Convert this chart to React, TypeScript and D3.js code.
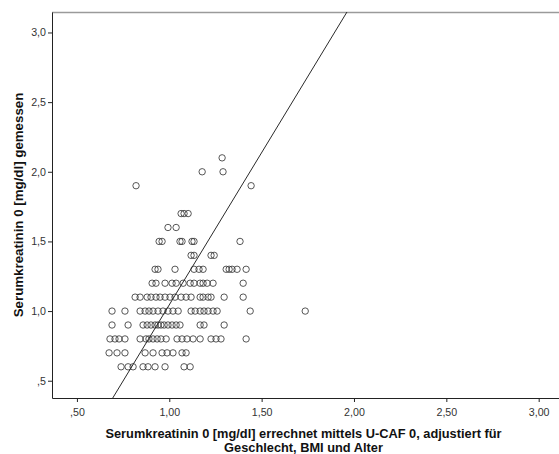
import { useEffect, useRef } from "react";
import * as d3 from "d3";

// measured serum creatinine (y) — values are recorded in 0.1 steps
const measuredLevels = [0.6, 0.7, 0.8, 0.9, 1.0, 1.1, 1.2, 1.3, 1.4, 1.5, 1.6, 1.7, 1.9, 2.0, 2.1];

const predictedByLevel = [
  [0.739, 0.777, 0.804, 0.858, 0.885, 0.923, 0.977, 1.080, 1.113],
  [0.674, 0.717, 0.760, 0.869, 0.912, 0.961, 0.988, 1.020, 1.069, 1.091],
  [0.679, 0.706, 0.728, 0.760, 0.842, 0.874, 0.890, 0.912, 0.934, 0.955, 0.983, 1.042, 1.069, 1.096, 1.129, 1.167, 1.226, 1.253, 1.280, 1.416],
  [0.690, 0.777, 0.858, 0.880, 0.901, 0.923, 0.939, 0.955, 0.972, 0.993, 1.015, 1.037, 1.058, 1.167, 1.188, 1.297],
  [0.690, 0.760, 0.842, 0.869, 0.890, 0.912, 0.939, 0.966, 0.993, 1.020, 1.048, 1.118, 1.140, 1.167, 1.188, 1.210, 1.237, 1.259, 1.438, 1.736],
  [0.815, 0.842, 0.880, 0.901, 0.928, 0.950, 0.977, 1.004, 1.031, 1.064, 1.091, 1.118, 1.167, 1.183, 1.210, 1.226, 1.297, 1.400],
  [0.907, 0.928, 0.977, 1.015, 1.037, 1.075, 1.113, 1.134, 1.167, 1.183, 1.205, 1.237, 1.400],
  [0.923, 0.939, 1.031, 1.134, 1.161, 1.183, 1.308, 1.324, 1.340, 1.367, 1.416],
  [1.118, 1.134, 1.226, 1.243],
  [0.945, 0.961, 1.058, 1.069, 1.123, 1.134, 1.383],
  [0.993, 1.037],
  [1.064, 1.080, 1.102],
  [0.820, 1.443],
  [1.178, 1.291],
  [1.286],
];

// reference / fit line  y = a + b·x
const fitIntercept = -1.14;
const fitSlope = 2.185;

const xTicks = [0.5, 1.0, 1.5, 2.0, 2.5, 3.0];
const yTicks = [0.5, 1.0, 1.5, 2.0, 2.5, 3.0];
const xDomain = [0.365, 3.11];
const yDomain = [0.376, 3.147];

const xTitle1 = "Serumkreatinin 0 [mg/dl] errechnet mittels U-CAF 0, adjustiert für";
const xTitle2 = "Geschlecht, BMI und Alter";
const yTitle = "Serumkreatinin 0 [mg/dl] gemessen";

const W = 559;
const H = 454;
const M = { top: 12, right: 0, bottom: 56, left: 52 };
const IW = W - M.left - M.right;
const IH = H - M.top - M.bottom;
const FONT = "Arial, 'Liberation Sans', sans-serif";

const commaFmt = (digits: number) => (v: number) =>
  v.toFixed(digits).replace(".", ",").replace(/^0/, "");

export default function App() {
  const svgRef = useRef<SVGSVGElement>(null);

  useEffect(() => {
    if (!svgRef.current) return;
    const svg = d3.select(svgRef.current);
    svg.selectAll("*").remove();

    const x = d3.scaleLinear().domain(xDomain).range([0, IW]);
    const y = d3.scaleLinear().domain(yDomain).range([IH, 0]);

    const points: { px: number; my: number }[] = [];
    measuredLevels.forEach((lv, i) => {
      predictedByLevel[i].forEach((p) => points.push({ px: p, my: lv }));
    });

    svg.append("rect").attr("width", W).attr("height", H).attr("fill", "#fff");

    svg.append("defs").append("clipPath").attr("id", "plot-clip")
      .append("rect").attr("width", IW).attr("height", IH);

    const g = svg.append("g").attr("transform", `translate(${M.left},${M.top})`);

    // top frame line
    g.append("line")
      .attr("x1", 0).attr("x2", IW).attr("y1", 0.5).attr("y2", 0.5)
      .attr("stroke", "#9a9a9a").attr("stroke-width", 1.5);

    // points
    g.append("g")
      .selectAll("circle")
      .data(points)
      .join("circle")
      .attr("cx", (d) => x(d.px))
      .attr("cy", (d) => y(d.my))
      .attr("r", 3.2)
      .attr("fill", "none")
      .attr("stroke", "#3a3a3a")
      .attr("stroke-opacity", 0.85)
      .attr("stroke-width", 1);

    // fit line
    const line = d3.line<number>()
      .x((d) => x(d))
      .y((d) => y(fitIntercept + fitSlope * d));
    g.append("path")
      .attr("clip-path", "url(#plot-clip)")
      .attr("d", line(xDomain))
      .attr("fill", "none")
      .attr("stroke", "#2a2a2a")
      .attr("stroke-width", 1);

    const styleAxis = (sel: any) => {
      sel.selectAll("text")
        .attr("fill", "#333")
        .attr("font-size", 10.67)
        .attr("font-family", FONT);
      sel.selectAll("line, path").attr("stroke", "#222");
    };

    g.append("g")
      .attr("transform", `translate(0,${IH})`)
      .call(d3.axisBottom(x).tickValues(xTicks).tickFormat(commaFmt(2) as any)
        .tickSize(4).tickSizeOuter(0).tickPadding(6))
      .call(styleAxis);

    g.append("g")
      .call(d3.axisLeft(y).tickValues(yTicks).tickFormat(commaFmt(1) as any)
        .tickSize(4).tickSizeOuter(0).tickPadding(2))
      .call(styleAxis);

    // axis titles
    const tx = M.left + IW / 2 - 2;
    const xt = svg.append("text")
      .attr("text-anchor", "middle")
      .attr("font-family", FONT)
      .attr("font-weight", "bold")
      .attr("font-size", 12.8)
      .attr("fill", "#111");
    xt.append("tspan").attr("x", tx).attr("y", 438).text(xTitle1);
    xt.append("tspan").attr("x", tx).attr("y", 452).text(xTitle2);

    svg.append("text")
      .attr("transform", `translate(23,${M.top + IH / 2}) rotate(-90)`)
      .attr("text-anchor", "middle")
      .attr("font-family", FONT)
      .attr("font-weight", "bold")
      .attr("font-size", 13.3)
      .attr("fill", "#111")
      .text(yTitle);
  }, []);

  return (
    <svg
      ref={svgRef}
      width={W}
      height={H}
      style={{ position: "absolute", left: 0, top: 0, display: "block" }}
    />
  );
}
